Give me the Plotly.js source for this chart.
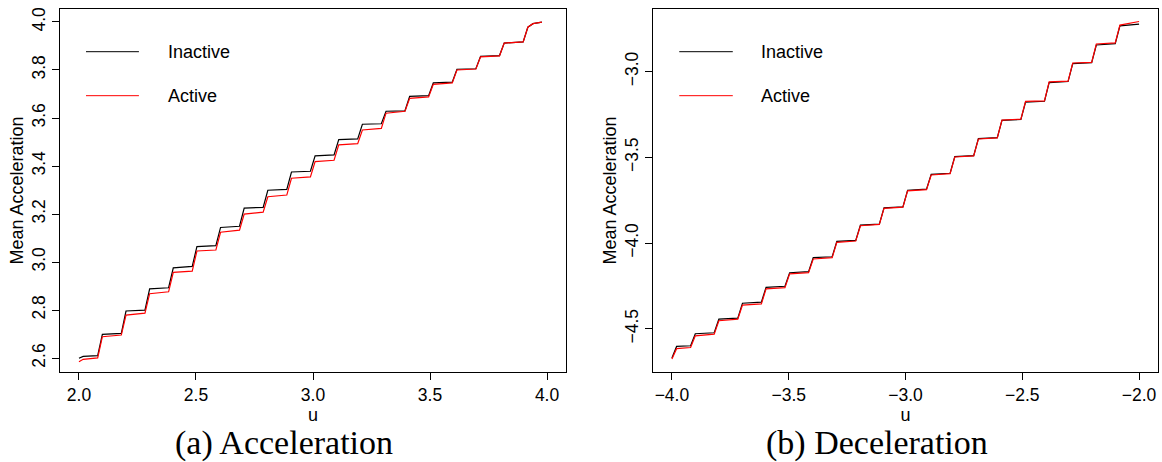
<!DOCTYPE html>
<html>
<head>
<meta charset="utf-8">
<script src="https://cdn.plot.ly/plotly-3.0.1.min.js"></script>
<style>html,body{margin:0;padding:0;background:#fff;}#chart{width:1162px;height:462px;}</style>
</head>
<body>
<div id="chart"></div>
<script>
// ---- Data ----
const seriesNames = ["Inactive", "Active"];
const panelCaptions = ["(a) Acceleration", "(b) Deceleration"];

const uAcc = [2.000, 2.018, 2.080, 2.100, 2.181, 2.201, 2.282, 2.302, 2.383, 2.403,
  2.484, 2.504, 2.585, 2.605, 2.686, 2.706, 2.787, 2.807, 2.888, 2.908,
  2.989, 3.009, 3.090, 3.110, 3.191, 3.211, 3.292, 3.312, 3.393, 3.413,
  3.494, 3.514, 3.595, 3.615, 3.696, 3.716, 3.797, 3.817, 3.898, 3.918,
  3.940, 3.978];
const accInactive = [2.599, 2.607, 2.610, 2.699, 2.703, 2.796, 2.800, 2.888, 2.893, 2.976,
  2.982, 3.064, 3.068, 3.144, 3.149, 3.225, 3.228, 3.299, 3.303, 3.375,
  3.378, 3.442, 3.446, 3.510, 3.513, 3.574, 3.576, 3.628, 3.630, 3.690,
  3.693, 3.746, 3.749, 3.803, 3.805, 3.857, 3.860, 3.912, 3.917, 3.978,
  3.993, 3.999];
const accActive = [2.585, 2.595, 2.601, 2.689, 2.696, 2.779, 2.787, 2.868, 2.876, 2.957,
  2.962, 3.046, 3.050, 3.124, 3.133, 3.200, 3.208, 3.272, 3.279, 3.349,
  3.355, 3.418, 3.424, 3.488, 3.493, 3.550, 3.557, 3.620, 3.628, 3.682,
  3.688, 3.740, 3.746, 3.800, 3.804, 3.855, 3.859, 3.912, 3.917, 3.978,
  3.993, 3.999];

const uDec = [-4.000, -3.980, -3.920, -3.900, -3.819, -3.799, -3.718, -3.698, -3.617, -3.597,
  -3.516, -3.496, -3.415, -3.395, -3.314, -3.294, -3.213, -3.193, -3.112, -3.092,
  -3.011, -2.991, -2.910, -2.890, -2.809, -2.789, -2.708, -2.688, -2.607, -2.587,
  -2.506, -2.486, -2.405, -2.385, -2.304, -2.284, -2.203, -2.183, -2.102, -2.082,
  -2.000];
const decInactive = [-4.670, -4.603, -4.599, -4.529, -4.523, -4.444, -4.438, -4.351, -4.345, -4.258,
  -4.252, -4.173, -4.167, -4.085, -4.080, -3.990, -3.984, -3.895, -3.890, -3.795,
  -3.789, -3.692, -3.686, -3.599, -3.593, -3.496, -3.490, -3.391, -3.385, -3.285,
  -3.279, -3.178, -3.173, -3.064, -3.058, -2.953, -2.948, -2.845, -2.837, -2.733,
  -2.723];
const decActive = [-4.676, -4.616, -4.609, -4.541, -4.531, -4.453, -4.444, -4.362, -4.355, -4.267,
  -4.260, -4.180, -4.173, -4.093, -4.085, -3.996, -3.988, -3.899, -3.891, -3.798,
  -3.791, -3.696, -3.688, -3.603, -3.595, -3.498, -3.492, -3.393, -3.387, -3.283,
  -3.277, -3.174, -3.171, -3.060, -3.056, -2.950, -2.946, -2.839, -2.833, -2.729,
  -2.708];

const xTicksAcc = [2.0, 2.5, 3.0, 3.5, 4.0];
const yTicksAcc = [2.6, 2.8, 3.0, 3.2, 3.4, 3.6, 3.8, 4.0];
const xTicksDec = [-4.0, -3.5, -3.0, -2.5, -2.0];
const yTicksDec = [-4.5, -4.0, -3.5, -3.0];

// ---- Styling ----
const W = 1162, H = 462;
const sans = "Liberation Sans, Arial, Helvetica, sans-serif";
const serif = "Liberation Serif, Times New Roman, serif";
const colors = ["#000000", "#ff0000"];

function px(v){ return v / W; }
function py(v){ return (H - v) / H; }

const traces = [
  {x: uAcc, y: accInactive, name: seriesNames[0], xaxis: "x", yaxis: "y"},
  {x: uAcc, y: accActive, name: seriesNames[1], xaxis: "x", yaxis: "y"},
  {x: uDec, y: decInactive, name: seriesNames[0], xaxis: "x2", yaxis: "y2"},
  {x: uDec, y: decActive, name: seriesNames[1], xaxis: "x2", yaxis: "y2"}
].map((t, i) => Object.assign(t, {
  type: "scatter", mode: "lines", showlegend: false, hoverinfo: "skip",
  line: {color: colors[i % 2], width: 1.2}
}));

function xAxis(domain, range, ticks, anchor){
  return {
    domain: domain, range: range, anchor: anchor,
    tickvals: ticks, tickformat: ".1f",
    ticks: "outside", ticklen: 7, tickwidth: 1, tickcolor: "#000",
    showline: true, linecolor: "#000", linewidth: 1, mirror: true,
    showgrid: false, zeroline: false,
    tickfont: {family: sans, size: 17.5, color: "#000"},
    title: {text: "u", font: {family: sans, size: 18, color: "#000"}, standoff: 4}
  };
}
function yAxis(domain, range, ticks, anchor){
  return {
    domain: domain, range: range, anchor: anchor,
    tickvals: ticks, tickformat: ".1f", tickangle: -90,
    ticks: "outside", ticklen: 7, tickwidth: 1, tickcolor: "#000",
    showline: true, linecolor: "#000", linewidth: 1, mirror: true,
    showgrid: false, zeroline: false,
    tickfont: {family: sans, size: 17.5, color: "#000"},
    title: {text: "Mean Acceleration", font: {family: sans, size: 18, color: "#000"}, standoff: 0}
  };
}

const yDom = [py(372), py(9)];

const annotations = [];
const shapes = [];
// manual legends (line samples + labels), positioned in axis-domain fractions
const legendSpec = [
  {xr: "x domain", yr: "y domain", x0: 0.0514, x1: 0.156, tx: 0.2095},
  {xr: "x2 domain", yr: "y2 domain", x0: 0.052, x1: 0.158, tx: 0.210}
];
const legendY = [0.8824, 0.7612];
legendSpec.forEach(s => {
  seriesNames.forEach((nm, j) => {
    shapes.push({type: "line", xref: s.xr, yref: s.yr, x0: s.x0, x1: s.x1,
      y0: legendY[j], y1: legendY[j], line: {color: colors[j], width: 1}});
    annotations.push({xref: s.xr, yref: s.yr, x: s.tx, y: legendY[j],
      xanchor: "left", yanchor: "middle", showarrow: false, text: nm,
      font: {family: sans, size: 18, color: "#000"}});
  });
});
// captions
const capX = [284, 877];
panelCaptions.forEach((c, i) => {
  annotations.push({xref: "paper", yref: "paper", x: px(capX[i]), y: py(443),
    xanchor: "center", yanchor: "middle", showarrow: false, text: c,
    font: {family: serif, size: 34, color: "#000"}});
});

const layout = {
  width: W, height: H,
  margin: {l: 0, r: 0, t: 0, b: 0},
  paper_bgcolor: "#fff", plot_bgcolor: "#fff",
  showlegend: false,
  xaxis: xAxis([px(60), px(566)], [1.919, 4.081], xTicksAcc, "y"),
  yaxis: yAxis(yDom, [2.542, 4.054], yTicksAcc, "x"),
  xaxis2: xAxis([px(653), px(1158)], [-4.081, -1.919], xTicksDec, "y2"),
  yaxis2: yAxis(yDom, [-4.752, -2.635], yTicksDec, "x2"),
  annotations: annotations,
  shapes: shapes
};

Plotly.newPlot("chart", traces, layout, {staticPlot: true, displayModeBar: false});
</script>
</body>
</html>
